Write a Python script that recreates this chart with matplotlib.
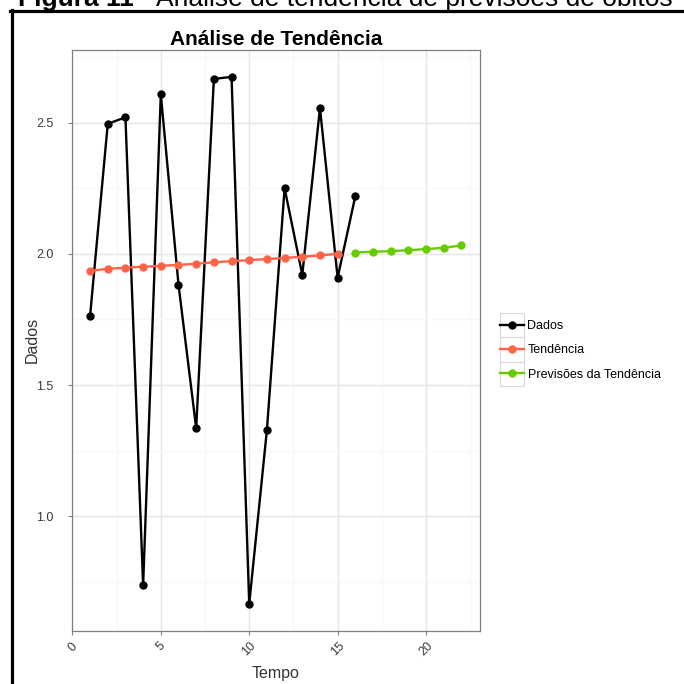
import matplotlib
matplotlib.use("Agg")
import matplotlib.pyplot as plt
from matplotlib.lines import Line2D
from matplotlib.patches import Rectangle
from matplotlib.ticker import MultipleLocator

plt.rcParams['font.family'] = ['Liberation Sans', 'DejaVu Sans']

# ---- data ----
tempo_dados = list(range(1, 17))
dados = [1.763, 2.495, 2.520, 0.737, 2.608, 1.883, 1.336, 2.666,
         2.674, 0.667, 1.329, 2.250, 1.920, 2.555, 1.909, 2.220]
tempo_tend = list(range(1, 16))
tendencia = [1.935, 1.943, 1.947, 1.951, 1.954, 1.958, 1.962, 1.968,
             1.972, 1.976, 1.980, 1.984, 1.989, 1.994, 2.000]
tempo_prev = list(range(16, 23))
previsoes = [2.005, 2.008, 2.010, 2.014, 2.018, 2.023, 2.032]

x_ticks = [0, 5, 10, 15, 20]
y_ticks = [1.0, 1.5, 2.0, 2.5]
series_labels = ["Dados", "Tendência", "Previsões da Tendência"]
series_colors = ["black", "#FF6347", "#66CC00"]

title = "Análise de Tendência"
caption_bold = "Figura 11"
caption_rest = " - Análise de tendência de previsões de óbitos"

W = H = 684
fig = plt.figure(figsize=(6.84, 6.84), dpi=100)

def fx(px):
    return px / W

def fy(py):
    return 1 - py / H

ax = fig.add_axes([fx(71.5), fy(630.5), fx(480) - fx(71.5), fy(50.2) - fy(630.5)])

ax.plot(tempo_dados, dados, color=series_colors[0], lw=1.7, marker='o', ms=5, label=series_labels[0], zorder=3)
ax.plot(tempo_tend, tendencia, color=series_colors[1], lw=1.7, marker='o', ms=5, label=series_labels[1], zorder=4)
ax.plot(tempo_prev, previsoes, color=series_colors[2], lw=1.7, marker='o', ms=5, label=series_labels[2], zorder=4)

ax.set_xlim(-0.05, 23.05)
ax.set_ylim(0.5655, 2.7755)
ax.set_xticks(x_ticks)
ax.set_yticks(y_ticks)
ax.set_yticklabels([f"{v:.1f}" for v in y_ticks])
ax.xaxis.set_minor_locator(MultipleLocator(2.5))
ax.yaxis.set_minor_locator(MultipleLocator(0.25))
ax.grid(True, which='major', color='#E5E5E5', lw=1.0, zorder=0)
ax.grid(True, which='minor', color='#F7F7F7', lw=1.0, zorder=0)
ax.set_axisbelow(True)
ax.tick_params(which='minor', length=0)
ax.tick_params(which='major', length=3, width=0.8, color='#7F7F7F',
               labelsize=9, labelcolor='#3A3A3A')
ax.tick_params(axis='y', pad=10)
ax.tick_params(axis='x', pad=4)
for lab in ax.get_xticklabels():
    lab.set_rotation(45)
    lab.set_ha('center')
    lab.set_va('top')
for sp in ax.spines.values():
    sp.set_color('#7F7F7F')
    sp.set_linewidth(0.9)

ax.set_xlabel("Tempo", fontsize=11.5, color='#333333', labelpad=5.5)
ax.set_ylabel("Dados", fontsize=11.5, color='#333333', labelpad=-3)

fig.text(fx(276), fy(39.5), title, ha='center', va='center', fontsize=15, fontweight='bold')

# caption (clipped at the top, as in the source)
t1 = fig.text(fx(18), fy(6), caption_bold, ha='left', va='baseline', fontsize=19, fontweight='bold')
fig.canvas.draw()
bb = t1.get_window_extent()
fig.text(bb.x1 / W, fy(6), caption_rest, ha='left', va='baseline', fontsize=19)

# frame lines
fig.add_artist(Line2D([fx(11.5), fx(11.5)], [fy(9.5), 0], color='black', lw=2.3))
fig.add_artist(Line2D([fx(10), 1], [fy(10.7), fy(10.7)], color='black', lw=2.3))

# legend
leg = fig.legend(loc='upper left', bbox_to_anchor=(fx(500), fy(320)), frameon=False,
                 fontsize=9, handlelength=1.92, handletextpad=0.28, labelspacing=0.98,
                 borderpad=0, borderaxespad=0)
for i in range(3):
    fig.add_artist(Rectangle((fx(500), fy(313 + 24.3 * (i + 1))), fx(24), 24.3 / H,
                             facecolor='none', edgecolor='#D9D9D9', lw=0.8))

fig.savefig("out.png", dpi=100)
